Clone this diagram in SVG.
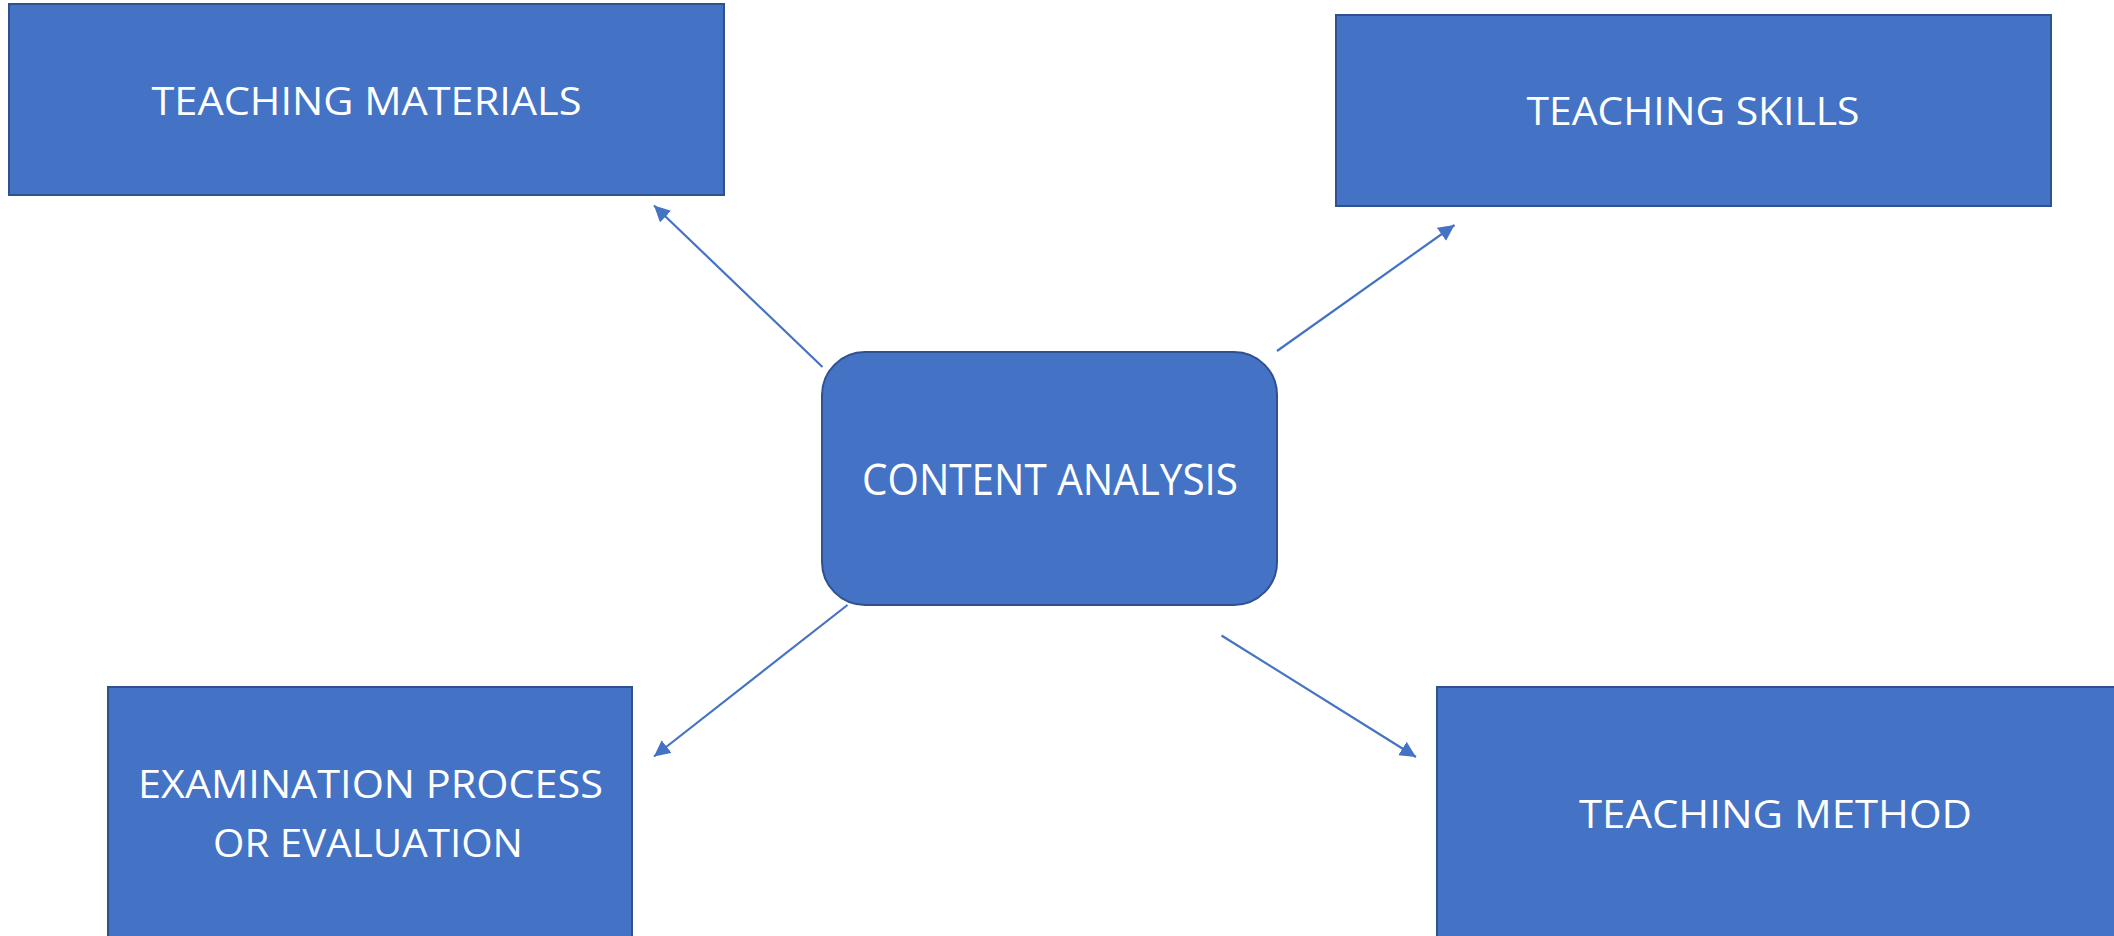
<svg xmlns="http://www.w3.org/2000/svg" width="2114" height="936" viewBox="0 0 2114 936">
  <style>
    .box { fill: #4472C4; stroke: #2F528F; stroke-width: 2; }
    .lbl { fill: #FFFFFF; font-family: "Open Sans", "Liberation Sans", Arial, sans-serif; font-size: 39px; text-anchor: middle; }
    .big { font-size: 43px; }
    .conn { stroke: #4472C4; stroke-width: 2.2; fill: none; marker-end: url(#arrow); }
  </style>
  <defs>
    <marker id="arrow" markerUnits="userSpaceOnUse" markerWidth="17" markerHeight="17" refX="16" refY="8" orient="auto">
      <path d="M0,0 L16,8 L0,16 z" fill="#4472C4"/>
    </marker>
  </defs>
  <rect width="2114" height="936" fill="#FFFFFF"/>

  <g id="connectors">
    <line class="conn" x1="822.5" y1="367" x2="654" y2="205.5"/>
    <line class="conn" x1="1277" y1="351" x2="1454.5" y2="225"/>
    <line class="conn" x1="847.5" y1="605" x2="654" y2="756.5"/>
    <line class="conn" x1="1221.5" y1="635.5" x2="1416" y2="757"/>
  </g>

  <g id="teaching-materials">
    <rect class="box" x="9" y="4" width="715" height="191"/>
    <text class="lbl" x="366.5" y="115" textLength="430" lengthAdjust="spacingAndGlyphs">TEACHING MATERIALS</text>
  </g>

  <g id="teaching-skills">
    <rect class="box" x="1336" y="15" width="715" height="191"/>
    <text class="lbl" x="1693" y="125" textLength="333" lengthAdjust="spacingAndGlyphs">TEACHING SKILLS</text>
  </g>

  <g id="content-analysis">
    <rect class="box" x="822" y="352" width="455" height="253" rx="43" ry="43"/>
    <text class="lbl big" x="1050" y="495" textLength="376" lengthAdjust="spacingAndGlyphs">CONTENT ANALYSIS</text>
  </g>

  <g id="examination">
    <rect class="box" x="108" y="687" width="524" height="260"/>
    <text class="lbl" x="370.5" y="798" textLength="465" lengthAdjust="spacingAndGlyphs">EXAMINATION PROCESS</text>
    <text class="lbl" x="368" y="857" textLength="310" lengthAdjust="spacingAndGlyphs">OR EVALUATION</text>
  </g>

  <g id="teaching-method">
    <rect class="box" x="1437" y="687" width="690" height="260"/>
    <text class="lbl" x="1775.5" y="828" textLength="393" lengthAdjust="spacingAndGlyphs">TEACHING METHOD</text>
  </g>
</svg>
